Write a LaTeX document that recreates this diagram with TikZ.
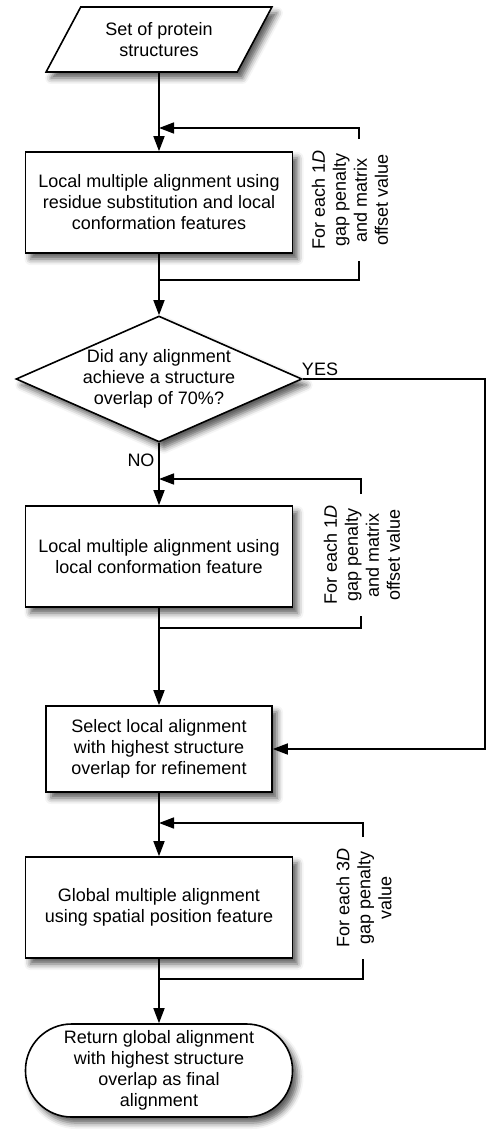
\documentclass[tikz,border=0pt]{standalone}
\usepackage{fontspec}
\setmainfont{Liberation Sans}
\usetikzlibrary{arrows.meta,shapes.geometric,shadows.blur}
\begin{document}
\begin{tikzpicture}[x=1pt,y=-1pt,
	font=\fontsize{18}{21}\selectfont,
	line width=1.6pt,
	>={Triangle[length=15pt,width=11pt]},
	shade/.style={blur shadow={shadow xshift=5pt,shadow yshift=-6pt,shadow blur radius=6pt,shadow opacity=65}},
	inputbox/.style={draw,fill=white,shade,trapezium,trapezium left angle=55.3,trapezium right angle=124.7,trapezium stretches=true,align=center,inner sep=0pt,minimum width=226pt,minimum height=65pt},
	procbox/.style={draw,fill=white,shade,rectangle,align=center,inner sep=0pt,minimum width=267pt,minimum height=101pt},
	decbox/.style={draw,fill=white,shade,diamond,aspect=2.27,align=center,inner sep=0pt,minimum width=286pt,minimum height=126pt},
	endbox/.style={draw,fill=white,shade,rectangle,rounded corners=46pt,align=center,inner sep=0pt,minimum width=267pt,minimum height=93pt},
	looptext/.style={rotate=90,align=center,inner sep=0pt,minimum width=120pt}]
	\useasboundingbox (0,0) rectangle (487,1142);
	% flow boxes
	\node[inputbox] (input) at (159,39.5) {Set of protein\\structures};
	\node[procbox] (box1) at (159,202.5) {Local multiple alignment using\\residue substitution and local\\conformation features};
	\node[decbox] (dec) at (159,379) {Did any alignment\\achieve a structure\\overlap of 70\%?};
	\node[procbox] (box2) at (159,556.5) {Local multiple alignment using\\local conformation feature};
	\node[procbox,minimum width=226pt,minimum height=86pt] (select) at (159,749) {Select local alignment\\with highest structure\\overlap for refinement};
	\node[procbox] (global) at (159,907.5) {Global multiple alignment\\using spatial position feature};
	\node[endbox] (final) at (159,1070.5) {Return global alignment\\with highest structure\\overlap as final\\alignment};
	% loop labels
	\node[looptext] (lab1) at (350,200) {For each 1\textit{D}\\gap penalty\\and matrix\\offset value};
	\node[looptext] (lab2) at (362,555) {For each 1\textit{D}\\gap penalty\\and matrix\\offset value};
	\node[looptext] (lab3) at (364,898) {For each 3\textit{D}\\gap penalty\\value};
	\node (yes) at (320,369) {YES};
	\node (no) at (141,460) {NO};
	\coordinate (loop1t) at (359,128);
	\coordinate (loop1b) at (359,280);
	\coordinate (loop2t) at (361,479);
	\coordinate (loop2b) at (361,628);
	\coordinate (loop3t) at (363,823);
	\coordinate (loop3b) at (363,979);
	\coordinate (yesr) at (485,0);
	% main flow
	\draw[->] (input) -- (box1);
	\draw[->] (box1) -- (dec);
	\draw[->] (dec) -- (box2);
	\draw[->] (box2) -- (select);
	\draw[->] (select) -- (global);
	\draw[->] (global) -- (final);
	\draw[->] (dec.east) -- (dec.east -| yesr) |- (select.east);
	% loops
	\draw (box1.south |- loop1b) -- (loop1b) -- (loop1b |- lab1.west);
	\draw[->] (loop1b |- lab1.east) -- (loop1t) -- (input.south |- loop1t);
	\draw (box2.south |- loop2b) -- (loop2b) -- (loop2b |- lab2.west);
	\draw[->] (loop2b |- lab2.east) -- (loop2t) -- (dec.south |- loop2t);
	\draw (global.south |- loop3b) -- (loop3b) -- (loop3b |- lab3.west);
	\draw[->] (loop3b |- lab3.east) -- (loop3t) -- (select.south |- loop3t);
\end{tikzpicture}
\end{document}
